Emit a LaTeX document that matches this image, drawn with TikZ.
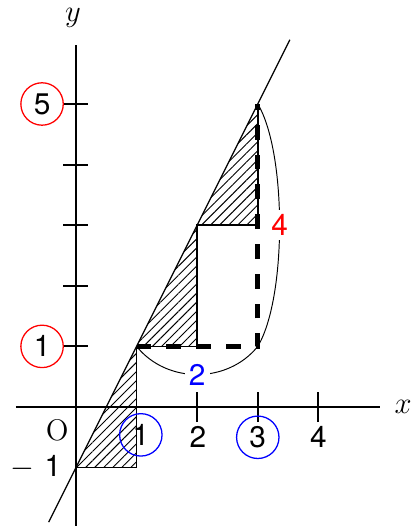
\documentclass[tikz,border=0pt]{standalone}
\usepackage{fontspec}
\setsansfont{TeX Gyre Heros}
\usetikzlibrary{patterns.meta}
\begin{document}
\begin{tikzpicture}[x=1cm,y=1cm,
  axis/.style={line width=1pt},
  tickline/.style={line width=1pt},
  stair/.style={line width=0.8pt},
  hatch/.style={pattern={Lines[angle=45,distance=3pt,line width=0.45pt]}},
  thickdash/.style={line width=2.3pt,dash pattern=on 7pt off 7pt},
  brace/.style={line width=0.45pt},
  num/.style={font=\sffamily\fontsize{14}{14}\selectfont,inner sep=0pt},
  ring/.style={circle,draw,line width=0.6pt,minimum size=0.7cm,inner sep=0pt,font=\sffamily\fontsize{14}{14}\selectfont},
  axlabel/.style={font=\fontsize{15}{15}\selectfont,inner sep=0pt}]
\useasboundingbox (-1.254,-1.964) rectangle (5.644,6.716);
% points
\coordinate (A) at (0,-1);
\coordinate (B) at (1,-1);
\coordinate (C) at (1,1);
\coordinate (D) at (2,1);
\coordinate (E) at (2,3);
\coordinate (F) at (3,3);
\coordinate (G) at (3,5);
\coordinate (H) at (3,1);
% hatching
\fill[hatch] (A) -- (B) -- (C) -- cycle;
\fill[hatch] (C) -- (D) -- (E) -- cycle;
\fill[hatch] (E) -- (F) -- (G) -- cycle;
% axes
\coordinate (xs) at (-0.99,0);
\coordinate (xe) at (5.02,0);
\coordinate (ys) at (0,-1.964);
\coordinate (ye) at (0,5.97);
\draw[axis] (xs) -- (xe);
\draw[axis] (ys) -- (ye);
\node[axlabel] (xl) at (5.40,0) {$x$};
\node[axlabel] (yl) at (-0.05,6.42) {$y$};
% line y=2x-1
\coordinate (L1) at (-0.45,-1.9);
\coordinate (L2) at (3.53,6.06);
\draw[line width=0.6pt] (L1) -- (L2);
% staircase
\draw[stair] (A) -- (B) -- (C) -- (D) -- (E) -- (F) -- (G);
\draw[thickdash] (C) -- (H) -- (G);
% y ticks
\foreach \k in {1,...,5}{\draw[tickline] (-0.21,\k) -- (0.2,\k);}
% x ticks
\foreach \k in {2,3,4}{\draw[tickline] (\k,-0.25) -- (\k,0.25);}
% labels
\node[ring,draw=red] (r5) at (-0.56,5) {5};
\node[ring,draw=red] (r1) at (-0.56,1) {1};
\node[ring,draw=blue] (b1) at (1.07,-0.46) {1};
\node[ring,draw=blue] (b3) at (3.0,-0.5) {3};
\node[num] (n2) at (2.01,-0.5) {2};
\node[num] (n4) at (4.0,-0.5) {4};
\node[font=\fontsize{14}{14}\selectfont,inner sep=0pt] (o) at (-0.31,-0.38) {O};
\node[num] (m1) at (-0.66,-0.99) {{\rmfamily$-$}\,\,1};
% braces
\draw[brace] (C) .. controls (1.5,0.38) and (2.5,0.38) .. node[pos=0.5,fill=white,text=blue,num,inner sep=2pt] (lb2) {2} (H);
\draw[brace] (G) .. controls (3.48,4.2) and (3.48,1.8) .. node[pos=0.5,fill=white,text=red,num,inner sep=2pt] (lb4) {4} (H);
\end{tikzpicture}
\end{document}
